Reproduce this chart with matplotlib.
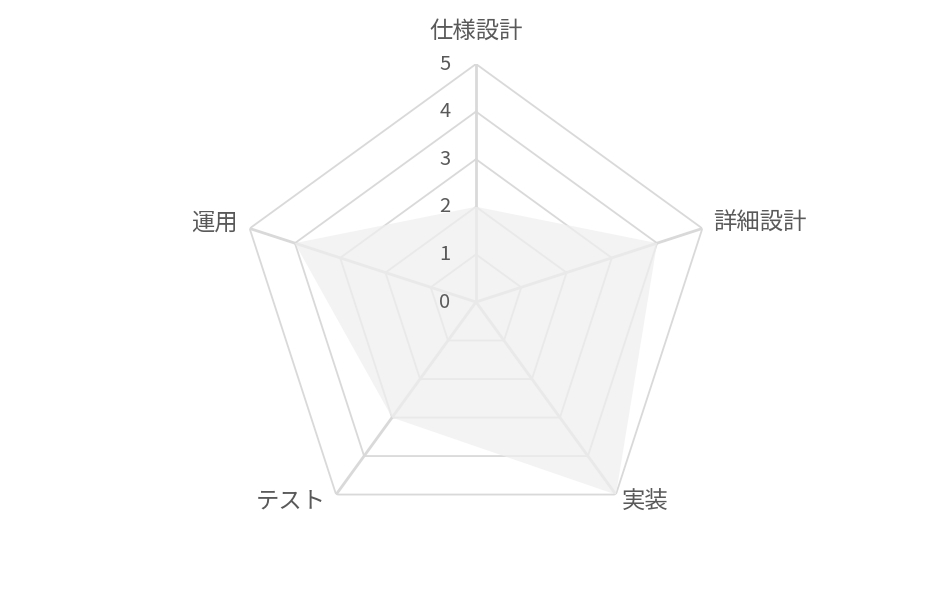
import numpy as np
import matplotlib
matplotlib.use("Agg")
import matplotlib.pyplot as plt

plt.rcParams['font.family'] = ['Noto Sans CJK JP', 'DejaVu Sans']

categories = ["仕様設計", "詳細設計", "実装", "テスト", "運用"]
values = [2, 4, 5, 3, 4]
r_ticks = [0, 1, 2, 3, 4, 5]
r_max = 5

W, H = 951, 605
fig = plt.figure(figsize=(W / 100, H / 100), dpi=100)
cx, cy, R = 476, 605 - 302, 238
ax = fig.add_axes([(cx - R) / W, (cy - R) / H, 2 * R / W, 2 * R / H], projection='polar')
ax.set_theta_offset(np.pi / 2)
ax.set_theta_direction(-1)
ax.set_ylim(0, r_max)
ax.grid(False)
ax.spines['polar'].set_visible(False)
ax.set_xticks([])
ax.set_yticks([])
ax.patch.set_alpha(0)

n = len(categories)
angles = np.linspace(0, 2 * np.pi, n, endpoint=False)
closed = np.concatenate([angles, angles[:1]])

grid_color = '#d9d9d9'
for r in r_ticks[1:]:
    ax.plot(closed, [r] * (n + 1), color=grid_color, lw=1.3, zorder=1, solid_joinstyle='miter')
for a in angles:
    ax.plot([a, a], [0, r_max], color=grid_color, lw=2.0, zorder=1)

vals = np.array(values + values[:1], dtype=float)
ax.fill(closed, vals, color='#efefef', alpha=0.75, lw=0, zorder=2)

# radial tick labels
for r in r_ticks:
    ax.annotate(str(r), xy=(0, r), xytext=(-31, 0), textcoords='offset pixels',
                ha='center', va='center', fontsize=14.5, color='#595959')

# category labels
offsets = [(0, 33, 'center', 'center'),
           (11, 5, 'left', 'center'),
           (6, -8, 'left', 'center'),
           (-10, -6, 'right', 'center'),
           (-12, 5, 'right', 'center')]
for a, lab, (dx, dy, ha, va) in zip(angles, categories, offsets):
    ax.annotate(lab, xy=(a, r_max), xytext=(dx, dy), textcoords='offset pixels',
                ha=ha, va=va, fontsize=16.8, color='#595959')

fig.savefig('out.png', dpi=100, facecolor='white')
